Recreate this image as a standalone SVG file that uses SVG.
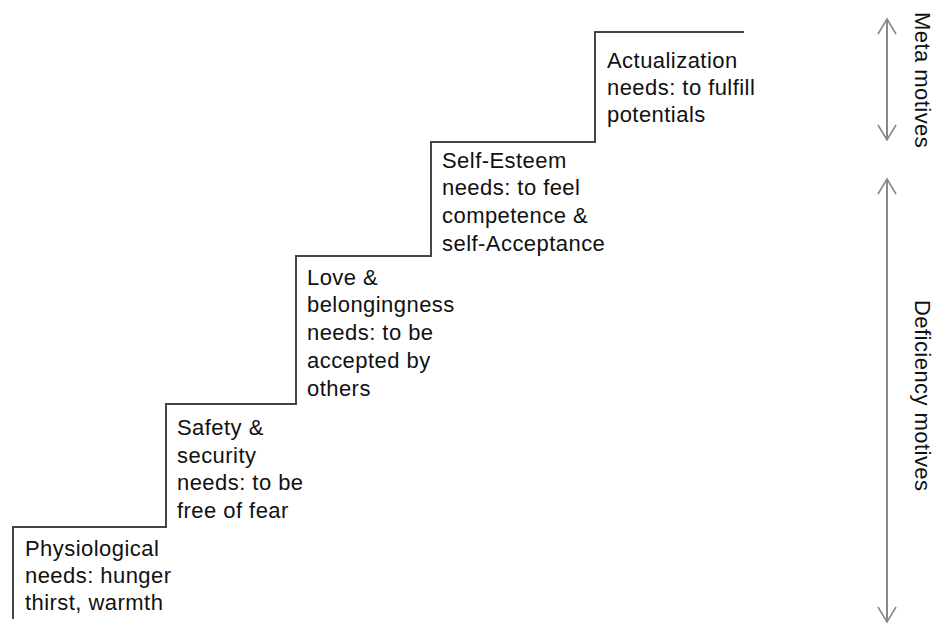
<svg xmlns="http://www.w3.org/2000/svg" width="937" height="625" viewBox="0 0 937 625">
<style>
.t{font-family:"Liberation Sans",Arial,sans-serif;font-size:22px;fill:#111;letter-spacing:0.45px}
.stair{fill:none;stroke:#444;stroke-width:2}
.arr{fill:none;stroke:#888;stroke-width:2}
</style>
<defs>
<marker id="chev" viewBox="0 0 20 20" refX="16" refY="10" markerWidth="20" markerHeight="20" markerUnits="userSpaceOnUse" orient="auto-start-reverse">
<path d="M1,1 L16,10 L1,19" fill="none" stroke="#888" stroke-width="1.6"/>
</marker>
</defs>
<g id="connectors">
<path class="stair" d="M13,619 V527 H166 V404 H296 V256 H431 V142 H595 V32 H744"/>
<line id="meta-arrow" class="arr" x1="887" y1="19" x2="887" y2="140" marker-start="url(#chev)" marker-end="url(#chev)"/>
<line id="def-arrow" class="arr" x1="887" y1="179" x2="887" y2="622" marker-start="url(#chev)" marker-end="url(#chev)"/>
</g>
<g id="physiological">
<text class="t" x="25" y="556">Physiological</text>
<text class="t" x="25" y="583">needs: hunger</text>
<text class="t" x="25" y="610">thirst, warmth</text>
</g>
<g id="safety">
<text class="t" x="177" y="435">Safety &amp;</text>
<text class="t" x="177" y="463">security</text>
<text class="t" x="177" y="490">needs: to be</text>
<text class="t" x="177" y="518">free of fear</text>
</g>
<g id="love">
<text class="t" x="307" y="285">Love &amp;</text>
<text class="t" x="307" y="312">belongingness</text>
<text class="t" x="307" y="340">needs: to be</text>
<text class="t" x="307" y="368">accepted by</text>
<text class="t" x="307" y="396">others</text>
</g>
<g id="esteem">
<text class="t" x="442" y="168">Self-Esteem</text>
<text class="t" x="442" y="195">needs: to feel</text>
<text class="t" x="442" y="223">competence &amp;</text>
<text class="t" x="442" y="251">self-Acceptance</text>
</g>
<g id="actualization">
<text class="t" x="607" y="68">Actualization</text>
<text class="t" x="607" y="95">needs: to fulfill</text>
<text class="t" x="607" y="122">potentials</text>
</g>
<g id="meta-label">
<text class="t" transform="translate(915,12) rotate(90)">Meta motives</text>
</g>
<g id="deficiency-label">
<text class="t" transform="translate(915,300) rotate(90)">Deficiency motives</text>
</g>
</svg>
